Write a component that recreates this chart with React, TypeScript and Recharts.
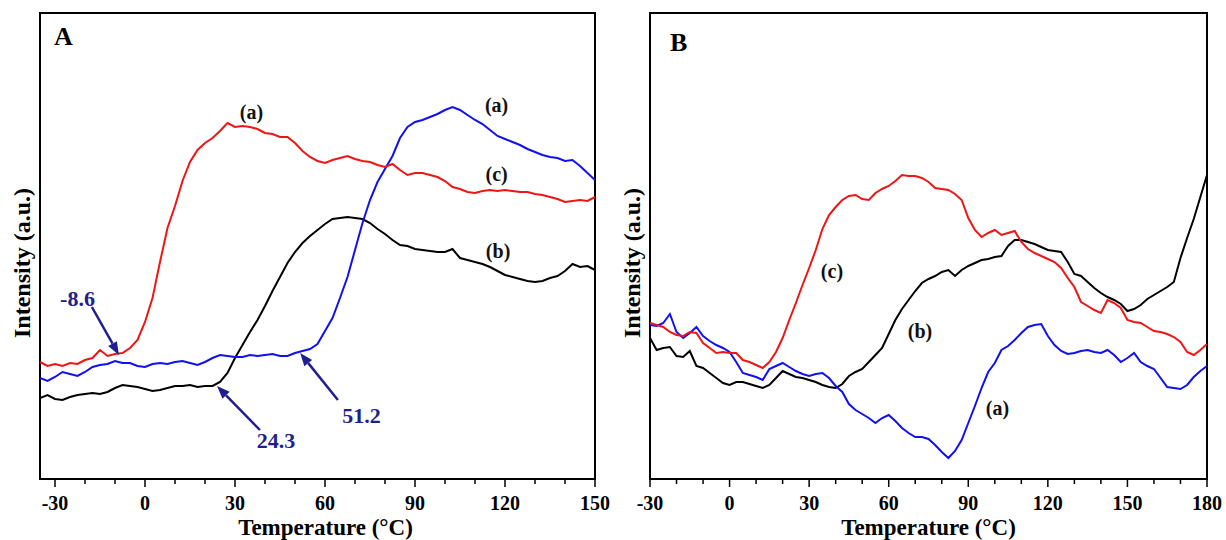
import React from "react";
import {
  LineChart,
  Line,
  XAxis,
  YAxis,
  ReferenceArea,
  ReferenceLine,
  ReferenceDot,
} from "recharts";

// temperature grid (°C) and intensities (a.u.)
const tempsA = [
  -35, -32.5, -30, -27.5, -25, -22.5, -20, -17.5, -15, -12.5,
  -10, -7.5, -5, -2.5, 0, 2.5, 5, 7.5, 10, 12.5,
  15, 17.5, 20, 22.5, 25, 27.5, 30, 32.5, 35, 37.5,
  40, 42.5, 45, 47.5, 50, 52.5, 55, 57.5, 60, 62.5,
  65, 67.5, 70, 72.5, 75, 77.5, 80, 82.5, 85, 87.5,
  90, 92.5, 95, 97.5, 100, 102.5, 105, 107.5, 110, 112.5,
  115, 117.5, 120, 122.5, 125, 127.5, 130, 132.5, 135, 137.5,
  140, 142.5, 145, 147.5, 150,
];
const redA = [
  117, 113, 115, 113, 116, 115, 119, 121, 129, 123,
  125, 126, 131, 139, 157, 181, 217, 251, 273, 298,
  317, 329, 336, 341, 348, 356, 352, 353, 352, 350,
  346, 345, 342, 342, 336, 328, 322, 318, 316, 319,
  321, 323, 320, 318, 317, 314, 312, 315, 309, 304,
  306, 306, 304, 302, 298, 292, 290, 287, 286, 288,
  289, 288, 289, 288, 287, 287, 285, 284, 282, 280,
  277, 278, 279, 278, 282,
];
const blueA = [
  101, 98, 102, 107, 105, 103, 107, 112, 114, 115,
  118, 116, 116, 113, 112, 115, 116, 115, 117, 118,
  116, 114, 117, 121, 124, 123, 122, 122, 124, 123,
  124, 125, 123, 123, 126, 128, 130, 135, 148, 161,
  181, 202, 229, 256, 279, 297, 310, 323, 341, 352,
  357, 359, 362, 365, 369, 372, 369, 364, 359, 355,
  349, 343, 340, 337, 334, 330, 327, 324, 322, 321,
  318, 319, 313, 306, 299,
];
const blackA = [
  81, 84, 80, 79, 82, 84, 85, 86, 85, 87,
  91, 94, 93, 92, 90, 88, 89, 91, 93, 93,
  94, 92, 93, 93, 97, 106, 121, 134, 147, 159,
  173, 188, 202, 216, 227, 236, 243, 249, 255, 260,
  261, 262, 261, 260, 256, 250, 245, 239, 234, 233,
  230, 229, 228, 227, 227, 230, 221, 219, 217, 215,
  212, 208, 204, 202, 200, 198, 197, 198, 201, 203,
  208, 215, 212, 213, 209,
];

const tempsB = [
  -30, -27.5, -25, -22.5, -20, -17.5, -15, -12.5, -10, -7.5,
  -5, -2.5, 0, 2.5, 5, 7.5, 10, 12.5, 15, 17.5,
  20, 22.5, 25, 27.5, 30, 32.5, 35, 37.5, 40, 42.5,
  45, 47.5, 50, 52.5, 55, 57.5, 60, 62.5, 65, 67.5,
  70, 72.5, 75, 77.5, 80, 82.5, 85, 87.5, 90, 92.5,
  95, 97.5, 100, 102.5, 105, 107.5, 110, 112.5, 115, 117.5,
  120, 122.5, 125, 127.5, 130, 132.5, 135, 137.5, 140, 142.5,
  145, 147.5, 150, 152.5, 155, 157.5, 160, 162.5, 165, 167.5,
  170, 172.5, 175, 177.5, 180,
];
const redB = [
  156, 154, 152, 147, 144, 143, 147, 146, 136, 131,
  126, 127, 126, 126, 119, 117, 114, 111, 117, 127,
  141, 159, 176, 194, 211, 229, 250, 264, 272, 279,
  283, 284, 280, 279, 286, 290, 293, 298, 304, 303,
  303, 301, 297, 291, 290, 289, 285, 279, 261, 249,
  242, 246, 249, 244, 246, 248, 237, 230, 226, 223,
  220, 217, 211, 201, 192, 177, 173, 169, 166, 179,
  176, 171, 159, 157, 156, 152, 148, 147, 145, 142,
  137, 127, 124, 129, 135,
];
const blackB = [
  141, 129, 131, 132, 123, 122, 128, 113, 111, 106,
  101, 96, 94, 97, 97, 95, 93, 91, 94, 101,
  108, 105, 102, 101, 99, 97, 94, 92, 91, 95,
  103, 107, 110, 117, 124, 131, 145, 159, 170, 179,
  188, 196, 200, 203, 207, 209, 203, 209, 213, 216,
  219, 220, 222, 223, 233, 239, 239, 237, 235, 232,
  229, 228, 227, 217, 205, 203, 197, 191, 186, 182,
  179, 175, 168, 170, 174, 180, 184, 188, 192, 197,
  221, 241, 260, 282, 304,
];
const blueB = [
  154, 153, 156, 165, 147, 141, 146, 152, 143, 138,
  134, 131, 127, 117, 106, 104, 102, 99, 110, 113,
  116, 112, 108, 105, 103, 105, 106, 101, 93, 87,
  75, 69, 65, 61, 56, 61, 64, 58, 51, 46,
  42, 42, 40, 34, 27, 21, 28, 39, 56, 73,
  91, 107, 116, 129, 133, 139, 146, 152, 154, 155,
  143, 134, 128, 125, 126, 128, 129, 127, 126, 129,
  124, 117, 121, 126, 117, 113, 110, 101, 92, 91,
  90, 94, 102, 108, 113,
];

const ticksA = [-30, -20, -10, 0, 10, 20, 30, 40, 50, 60, 70, 80, 90, 100, 110, 120, 130, 140, 150];
const ticksB = [-30, -20, -10, 0, 10, 20, 30, 40, 50, 60, 70, 80, 90, 100, 110, 120, 130, 140, 150, 160, 170, 180];

// curve tags: [temperature, intensity, text]
const tagsA: [number, number, string][] = [
  [35.5, 367, "(a)"],
  [117.2, 374, "(a)"],
  [117.2, 305, "(c)"],
  [117.7, 228, "(b)"],
];
const tagsB: [number, number, string][] = [
  [38.6, 208, "(c)"],
  [71.8, 148, "(b)"],
  [101, 71, "(a)"],
];

// onset arrows: tail, head, label position, label
const onsetsA = [
  { tail: [-17.7, 172], head: [-8.7, 124], at: [-22.5, 181], text: "-8.6" },
  { tail: [38.3, 49], head: [24, 93], at: [43.7, 39], text: "24.3" },
  { tail: [64.3, 79], head: [51.7, 126], at: [72.2, 64], text: "51.2" },
];

const rowsA = tempsA.map((t, i) => ({ t, red: redA[i], blue: blueA[i], black: blackA[i] }));
const rowsB = tempsB.map((t, i) => ({ t, red: redB[i], blue: blueB[i], black: blackB[i] }));

const FONT = "'Liberation Serif', 'Times New Roman', serif";
const NAVY = "#1f1f8f";
const RED = "#f01414";
const BLUE = "#1010f0";

function TempTick(props: any) {
  const { x, y, payload } = props;
  const major = payload.value % 30 === 0;
  return (
    <g>
      <line x1={x} y1={y} x2={x} y2={y + (major ? 8 : 5)} stroke="#000" strokeWidth={1.5} />
      {major && (
        <text x={x} y={y + 31} textAnchor="middle" fontFamily={FONT} fontWeight="bold" fontSize={20} fill="#000">
          {payload.value}
        </text>
      )}
    </g>
  );
}

function Arrow(props: any) {
  const { x1, y1, x2, y2 } = props;
  const ang = Math.atan2(y2 - y1, x2 - x1);
  const L = 13;
  const W = 5;
  const bx = x2 - L * Math.cos(ang);
  const by = y2 - L * Math.sin(ang);
  const p1 = `${bx + W * Math.sin(ang)},${by - W * Math.cos(ang)}`;
  const p2 = `${bx - W * Math.sin(ang)},${by + W * Math.cos(ang)}`;
  return (
    <g>
      <line x1={x1} y1={y1} x2={bx} y2={by} stroke={NAVY} strokeWidth={2.5} />
      <polygon points={`${x2},${y2} ${p1} ${p2}`} fill={NAVY} />
    </g>
  );
}

function yTitle(dx: number) {
  return (p: any) => {
    const vb = p.viewBox;
    return (
      <text
        transform={`translate(${vb.x + dx},${vb.y + vb.height / 2 + 17}) rotate(-90)`}
        textAnchor="middle"
        fontFamily={FONT}
        fontWeight="bold"
        fontSize={24}
        fill="#000"
      >
        Intensity (a.u.)
      </text>
    );
  };
}

function Panel(props: {
  rows: any[];
  width: number;
  right: number;
  domain: [number, number];
  ticks: number[];
  letter: string;
  letterOffset: number;
  titleDx: number;
  tags: [number, number, string][];
  onsets?: typeof onsetsA;
}) {
  const { rows, width, right, domain, ticks, letter, letterOffset, titleDx, tags, onsets = [] } = props;
  return (
    <LineChart width={width} height={540} data={rows} margin={{ top: 13, right, bottom: 0, left: 0 }}>
      <XAxis
        dataKey="t"
        type="number"
        domain={domain}
        ticks={ticks}
        interval={0}
        allowDataOverflow
        height={61}
        axisLine={false}
        tickLine={false}
        tickSize={0}
        tickMargin={0}
        tick={<TempTick />}
        label={{
          value: "Temperature (°C)",
          position: "insideBottom",
          offset: 5,
          dx: titleDx,
          fontFamily: FONT,
          fontWeight: "bold",
          fontSize: 23,
          fill: "#000",
        }}
      />
      <YAxis
        type="number"
        domain={[0, 466]}
        width={40}
        tick={false}
        tickLine={false}
        axisLine={false}
        allowDataOverflow
        label={{ content: yTitle(30) }}
      />
      <ReferenceArea
        x1={domain[0]}
        x2={domain[1]}
        y1={0}
        y2={466}
        fill="none"
        stroke="#000"
        strokeWidth={2}
        fillOpacity={0}
        label={{
          value: letter,
          position: "insideTopLeft",
          offset: letterOffset,
          fontFamily: FONT,
          fontWeight: "bold",
          fontSize: 26,
          fill: "#000",
        }}
      />
      <Line type="linear" dataKey="black" stroke="#000" strokeWidth={2} dot={false} isAnimationActive={false} />
      <Line type="linear" dataKey="blue" stroke={BLUE} strokeWidth={2} dot={false} isAnimationActive={false} />
      <Line type="linear" dataKey="red" stroke={RED} strokeWidth={2} dot={false} isAnimationActive={false} />
      {tags.map(([t, v, s], i) => (
        <ReferenceDot
          key={"tag" + i}
          x={t}
          y={v}
          r={0}
          fill="none"
          stroke="none"
          label={{ value: s, position: "center", fontFamily: FONT, fontWeight: "bold", fontSize: 20, fill: "#111" }}
        />
      ))}
      {onsets.map((o, i) => (
        <ReferenceLine
          key={"arr" + i}
          segment={[
            { x: o.tail[0], y: o.tail[1] },
            { x: o.head[0], y: o.head[1] },
          ]}
          stroke={NAVY}
          shape={(p: any) => <Arrow {...p} />}
        />
      ))}
      {onsets.map((o, i) => (
        <ReferenceDot
          key={"on" + i}
          x={o.at[0]}
          y={o.at[1]}
          r={0}
          fill="none"
          stroke="none"
          label={{ value: o.text, position: "center", fontFamily: FONT, fontWeight: "bold", fontSize: 22, fill: NAVY }}
        />
      ))}
    </LineChart>
  );
}

export default function App() {
  return (
    <div style={{ position: "absolute", left: 0, top: 0, width: 1226, height: 540, background: "#fff" }}>
      <div style={{ position: "absolute", left: 0, top: 0 }}>
        <Panel
          rows={rowsA}
          width={610}
          right={15}
          domain={[-35, 150]}
          ticks={ticksA}
          letter="A"
          letterOffset={14}
          titleDx={8}
          tags={tagsA}
          onsets={onsetsA}
        />
      </div>
      <div style={{ position: "absolute", left: 610, top: 0 }}>
        <Panel
          rows={rowsB}
          width={616}
          right={19}
          domain={[-30, 180]}
          ticks={ticksB}
          letter="B"
          letterOffset={20}
          titleDx={0}
          tags={tagsB}
        />
      </div>
    </div>
  );
}
